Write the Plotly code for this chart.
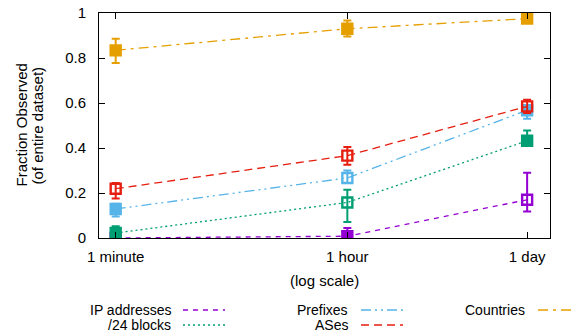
import plotly.graph_objects as go

# ---- data ----
x_seconds = [60, 3600, 86400]
x_ticktext = ["1 minute", "1 hour", "1 day"]

series_names = ["IP addresses", "/24 blocks", "Prefixes", "ASes", "Countries"]

ip_y = [0.0, 0.008, 0.170]
ip_hi = [0.0, 0.044, 0.290]
ip_lo = [0.0, 0.0, 0.118]

b24_y = [0.022, 0.158, 0.432]
b24_hi = [0.052, 0.215, 0.478]
b24_lo = [0.0, 0.071, 0.415]

pfx_y = [0.129, 0.267, 0.568]
pfx_hi = [0.152, 0.300, 0.590]
pfx_lo = [0.096, 0.245, 0.530]

as_y = [0.219, 0.366, 0.585]
as_hi = [0.244, 0.404, 0.615]
as_lo = [0.176, 0.326, 0.555]

cc_y = [0.834, 0.930, 0.975]
cc_hi = [0.886, 0.967, 0.980]
cc_lo = [0.778, 0.896, 0.970]

y_ticks = [0, 0.2, 0.4, 0.6, 0.8, 1]
y_ticktext = ["0", "0.2", "0.4", "0.6", "0.8", "1"]

# ---- styles ----
FONT = "Liberation Sans, Arial, Helvetica, sans-serif"
styles = {
    "IP addresses": dict(color="#9400D3", dash="5px,5px",
                         symbols=["square", "square", "square-open"]),
    "/24 blocks": dict(color="#009E73", dash="2px,3px",
                       symbols=["square", "square-open", "square"]),
    "Prefixes": dict(color="#56B4E9", dash="10px,4px,2px,4px,2px,4px",
                     symbols=["square", "square-open", "square"]),
    "ASes": dict(color="#E51E10", dash="8px,5px",
                 symbols=["square-open", "square-open", "square-open"]),
    "Countries": dict(color="#E69F00", dash="10px,5px,3px,5px",
                      symbols=["square", "square", "square"]),
}

data = {
    "IP addresses": (ip_y, ip_hi, ip_lo),
    "/24 blocks": (b24_y, b24_hi, b24_lo),
    "Prefixes": (pfx_y, pfx_hi, pfx_lo),
    "ASes": (as_y, as_hi, as_lo),
    "Countries": (cc_y, cc_hi, cc_lo),
}

fig = go.Figure()
for name in series_names:
    y, hi, lo = data[name]
    st = styles[name]
    fig.add_trace(go.Scatter(
        x=x_seconds, y=y, name=name, mode="lines+markers",
        line=dict(color=st["color"], width=1.3, dash=st["dash"]),
        marker=dict(symbol=st["symbols"], size=10, color=st["color"],
                    line=dict(color=st["color"], width=2.4)),
        error_y=dict(type="data", symmetric=False,
                     array=[h - v for h, v in zip(hi, y)],
                     arrayminus=[v - l for v, l in zip(y, lo)],
                     color=st["color"], thickness=2, width=4),
        showlegend=False,
    ))

W, H = 576, 333
PL, PR, PT, PB = 99, 550, 13, 238          # plot box in page px
L, R, T, B = PL, W - PR, PT, H - PB
PW, PH = PR - PL, PB - PT


def px_x(px):
    return (px - PL) / PW


def px_y(py):
    return (PB - py) / PH


annotations = [
    dict(text="Fraction Observed", x=px_x(21), y=0.5, xref="paper", yref="paper",
         textangle=-90, showarrow=False, font=dict(family=FONT, size=15, color="black"),
         xanchor="center", yanchor="middle"),
    dict(text="(of entire dataset)", x=px_x(37), y=0.5, xref="paper", yref="paper",
         textangle=-90, showarrow=False, font=dict(family=FONT, size=15, color="black"),
         xanchor="center", yanchor="middle"),
    dict(text="(log scale)", x=0.5, y=px_y(280), xref="paper", yref="paper",
         showarrow=False, font=dict(family=FONT, size=15, color="black"),
         xanchor="center", yanchor="middle"),
]

# manual legend (text then line sample, like the original)
legend_pos = {
    "IP addresses": (173, 310, 183, 225),
    "/24 blocks": (173, 325, 183, 227),
    "Prefixes": (350, 310, 361, 403),
    "ASes": (350, 325, 361, 403),
    "Countries": (527, 310, 538, 590),
}
shapes = []
for name in series_names:
    tx, ty, x0, x1 = legend_pos[name]
    st = styles[name]
    annotations.append(dict(
        text=name, x=px_x(tx), y=px_y(ty), xref="paper", yref="paper",
        showarrow=False, xanchor="right", yanchor="middle",
        font=dict(family=FONT, size=14, color="black")))
    shapes.append(dict(
        type="line", xref="paper", yref="paper",
        x0=px_x(x0), x1=px_x(x1), y0=px_y(ty), y1=px_y(ty),
        line=dict(color=st["color"], width=1.3, dash=st["dash"])))

fig.update_layout(
    width=W, height=H,
    margin=dict(l=L, r=R, t=T, b=B, autoexpand=False),
    paper_bgcolor="white", plot_bgcolor="white",
    font=dict(family=FONT, size=15, color="black"),
    annotations=annotations, shapes=shapes,
    showlegend=False,
)
fig.update_xaxes(
    type="log", range=[1.650, 5.112],
    tickvals=x_seconds, ticktext=x_ticktext,
    showgrid=False, zeroline=False, automargin=False,
    showline=True, linecolor="black", linewidth=1, mirror="allticks",
    ticks="inside", ticklen=6, tickcolor="black",
    tickfont=dict(family=FONT, size=15, color="black"),
    ticklabelstandoff=5,
)
fig.update_yaxes(
    range=[0, 1], tickvals=y_ticks, ticktext=y_ticktext,
    showgrid=False, zeroline=False, automargin=False,
    showline=True, linecolor="black", linewidth=1, mirror="allticks",
    ticks="inside", ticklen=6, tickcolor="black",
    tickfont=dict(family=FONT, size=15, color="black"),
    ticklabelstandoff=9,
)

# remove the browser's default 8px page margin so the figure sits at (0, 0)
fig.write_html("out.html",
               config={"displayModeBar": False},
               post_script="document.body.style.margin='0';")
